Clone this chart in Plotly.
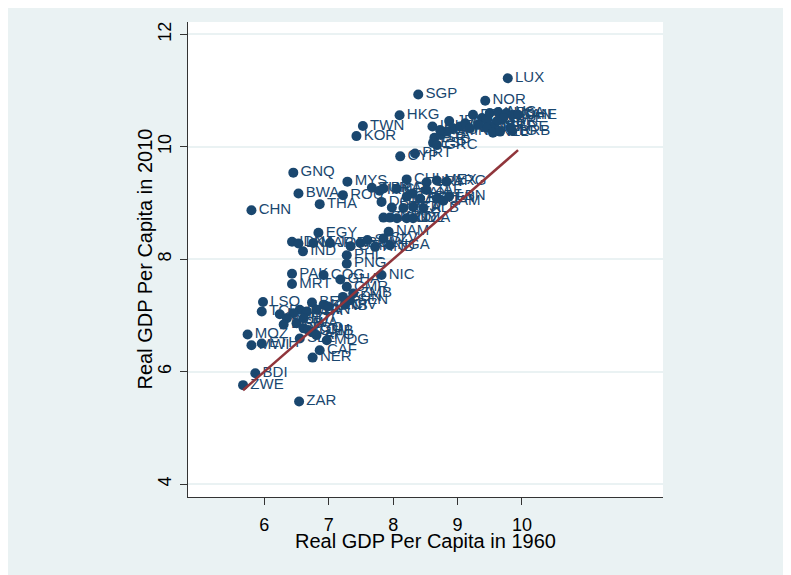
import plotly.graph_objects as go

# Country codes, log real GDP per capita 1960 and 2010
codes = [
    "LUX", "SGP", "NOR", "HKG", "TWN", "KOR", "CYP", "PRT",
    "IRL", "ISR", "ITA", "JPN", "FIN", "AUT", "BEL", "FRA", "ISL", "DNK",
    "NLD", "AUS", "USA", "CAN", "CHE", "SWE", "GBR", "DEU", "MLT", "BHS",
    "TTO", "OMN", "SAU", "NZL", "BRB", "ESP", "GRC", "ATG", "ARE",
    "GNQ", "MYS", "CHL", "URY", "MEX", "ARG", "BWA", "ROU", "THA", "CHN",
    "TUR", "IRN", "BRA", "CRI", "PAN", "ZAF", "DOM", "GAB", "ECU", "VEN",
    "JAM", "LBN", "PRY", "PER", "FJI", "ALB", "SYR", "TUN", "GUY", "COL",
    "DZA", "NAM",
    "EGY", "IDN", "LKA", "IND", "MAR", "JOR", "BOL", "GTM", "SWZ", "HND",
    "SLV", "NGA", "PHL", "PNG", "PAK", "COG", "GHA", "NIC", "MRT",
    "CMR", "ZMB", "SEN", "CIV", "SDN",
    "LSO", "TCD", "BEN", "KEN", "GNB", "UGA", "BFA", "TZA", "GIN", "MLI",
    "NPL", "BGD", "RWA", "HTI", "TGO", "COM", "MOZ", "MWI", "ETH", "SLE",
    "GMB", "AFG", "MDG", "CAF", "NER", "BDI", "ZWE", "ZAR",
]
gdp1960 = [
    9.78, 8.39, 9.43, 8.10, 7.53, 7.43, 8.11, 8.34,
    8.61, 8.64, 8.74, 8.87, 8.93, 9.04, 9.12, 9.24, 9.38, 9.45,
    9.50, 9.63, 9.76, 9.86, 9.94, 9.71, 9.61, 9.53, 9.45, 9.32,
    9.19, 8.83, 8.73, 9.55, 9.85, 8.62, 8.68, 9.66, 9.82,
    6.45, 7.29, 8.21, 8.52, 8.68, 8.83, 6.53, 7.22, 6.86, 5.80,
    7.67, 7.79, 7.85, 8.05, 8.30, 8.52, 7.82, 8.21, 8.42, 8.68,
    8.78, 8.87, 7.98, 8.16, 8.31, 8.47, 7.85, 7.95, 8.06, 8.21,
    8.31, 7.93,
    6.84, 6.43, 6.53, 6.60, 6.76, 7.02, 7.49, 7.34, 7.60, 7.72,
    7.85, 7.95, 7.28, 7.28, 6.43, 6.92, 7.18, 7.82, 6.43,
    7.28, 7.38, 7.33, 7.25, 7.22,
    5.98, 5.96, 6.74, 6.92, 6.99, 6.55, 6.45, 6.66, 6.81, 6.24,
    6.35, 6.30, 6.50, 6.61, 6.61, 6.68, 5.74, 5.80, 5.96, 6.55,
    6.74, 6.81, 6.97, 6.86, 6.75, 5.86, 5.67, 6.54,
]
gdp2010 = [
    11.22, 10.93, 10.82, 10.56, 10.37, 10.19, 9.83, 9.88,
    10.36, 10.16, 10.21, 10.46, 10.33, 10.36, 10.42, 10.57, 10.51, 10.48,
    10.60, 10.62, 10.60, 10.57, 10.57, 10.51, 10.45, 10.34, 10.34, 10.39,
    10.33, 10.27, 10.30, 10.25, 10.28, 10.07, 10.03, 10.27, 10.34,
    9.54, 9.38, 9.42, 9.37, 9.40, 9.38, 9.17, 9.14, 8.98, 8.87,
    9.27, 9.22, 9.26, 9.25, 9.17, 9.23, 9.02, 9.11, 9.08, 9.08,
    9.04, 9.12, 8.92, 8.91, 8.93, 8.91, 8.74, 8.74, 8.73, 8.73,
    8.73, 8.49,
    8.47, 8.31, 8.28, 8.14, 8.29, 8.29, 8.29, 8.23, 8.34, 8.22,
    8.37, 8.25, 8.07, 7.92, 7.74, 7.72, 7.64, 7.72, 7.56,
    7.51, 7.39, 7.27, 7.19, 7.33,
    7.24, 7.07, 7.23, 7.19, 7.16, 7.10, 7.04, 7.07, 7.10, 7.02,
    6.95, 6.84, 6.86, 6.95, 6.77, 6.74, 6.66, 6.47, 6.50, 6.59,
    6.71, 6.65, 6.56, 6.38, 6.25, 5.97, 5.76, 5.47,
]

x_ticks = [6, 7, 8, 9, 10]
y_ticks = [4, 6, 8, 10, 12]
x_title = "Real GDP Per Capita in 1960"
y_title = "Real GDP Per Capita in 2010"

navy = "#1a476f"
maroon = "#90353b"
bg = "#EAF2F3"
font_family = "Liberation Sans, Arial, sans-serif"

fig = go.Figure()
fig.add_trace(go.Scatter(
    x=gdp1960, y=gdp2010, text=codes, mode="markers+text",
    textposition="middle right",
    textfont=dict(family=font_family, size=15, color=navy),
    marker=dict(size=10, color=navy, line=dict(width=0)),
    hoverinfo="text",
))
# 45-degree line across the range of the 1960 values
lo, hi = min(gdp1960), max(gdp1960)
fig.add_trace(go.Scatter(
    x=[lo, hi], y=[lo, hi], mode="lines",
    line=dict(color=maroon, width=2.5),
    hoverinfo="skip",
))

fig.update_layout(
    width=791, height=575,
    margin=dict(l=180, r=136, t=14, b=86),
    paper_bgcolor=bg, plot_bgcolor="white",
    showlegend=False,
    font=dict(family=font_family, color="black"),
    xaxis=dict(
        range=[4.815, 12.19], tickvals=x_ticks, ticktext=[str(v) for v in x_ticks],
        showgrid=False, zeroline=False,
        showline=True, linecolor="#333333", linewidth=1,
        ticks="outside", ticklen=7, tickcolor="#333333",
        ticklabelstandoff=4,
        tickfont=dict(size=18, color="black"),
    ),
    yaxis=dict(
        range=[3.77, 12.22], tickvals=y_ticks, ticktext=[str(v) for v in y_ticks],
        tickangle=-90,
        showgrid=True, gridcolor=bg, gridwidth=1.5, zeroline=False,
        showline=True, linecolor="#333333", linewidth=1,
        ticks="outside", ticklen=7, tickcolor="#333333",
        ticklabelstandoff=2,
        tickfont=dict(size=18, color="black"),
    ),
    annotations=[
        dict(text=x_title, xref="paper", yref="paper", x=0.5, y=0,
             xanchor="center", yanchor="middle", yshift=-44, showarrow=False,
             font=dict(size=20, color="black")),
        dict(text=y_title, xref="paper", yref="paper", x=0, y=0.5,
             xanchor="center", yanchor="middle", xshift=-44, textangle=-90,
             showarrow=False, font=dict(size=20, color="black")),
    ],
)

fig.write_html("out.html")
